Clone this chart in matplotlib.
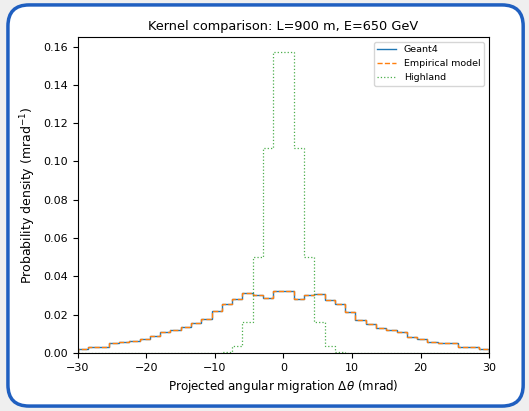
import numpy as np
import matplotlib
matplotlib.use("Agg")
import matplotlib.pyplot as plt
from matplotlib.patches import FancyBboxPatch

# bin edges (mrad), 1.5 mrad wide
bin_edges = np.arange(-30, 30.01, 1.5)

# densities, per bin, left to right
geant4 = [0.0022, 0.0033, 0.0033, 0.0050, 0.0056, 0.0063, 0.0073, 0.0087,
          0.0110, 0.0122, 0.0136, 0.0157, 0.0179, 0.0219, 0.0254, 0.0280,
          0.0313, 0.0303, 0.0287, 0.0325, 0.0325, 0.0284, 0.0301, 0.0310,
          0.0278, 0.0254, 0.0216, 0.0172, 0.0153, 0.0132, 0.0118, 0.0108,
          0.0084, 0.0071, 0.0059, 0.0054, 0.0050, 0.0031, 0.0031, 0.0021]
empirical = [0.0022, 0.0033, 0.0033, 0.0050, 0.0056, 0.0063, 0.0073, 0.0087,
             0.0110, 0.0122, 0.0136, 0.0157, 0.0179, 0.0219, 0.0254, 0.0280,
             0.0313, 0.0303, 0.0287, 0.0325, 0.0325, 0.0284, 0.0301, 0.0310,
             0.0278, 0.0254, 0.0216, 0.0172, 0.0153, 0.0132, 0.0118, 0.0108,
             0.0084, 0.0071, 0.0059, 0.0054, 0.0050, 0.0031, 0.0031, 0.0021]
highland = [0, 0, 0, 0, 0, 0, 0, 0, 0, 0, 0, 0, 0, 0,
            0.0006, 0.0035, 0.0162, 0.0502, 0.1070, 0.1570,
            0.1570, 0.1070, 0.0502, 0.0162, 0.0035, 0.0006,
            0, 0, 0, 0, 0, 0, 0, 0, 0, 0, 0, 0, 0, 0]

fig = plt.figure(figsize=(5.29, 4.11), dpi=100)
fig.patch.set_facecolor("#efefef")

# rounded blue frame behind the axes
frame = FancyBboxPatch((0.015, 0.012), 0.974, 0.976, transform=fig.transFigure,
                       boxstyle="round,pad=0,rounding_size=0.04",
                       facecolor="white", edgecolor="#1f5fc0", linewidth=2.5,
                       mutation_aspect=529 / 411, zorder=-5)
fig.patches.append(frame)

ax = fig.add_axes([0.1474, 0.141, 0.777, 0.769])
ax.stairs(geant4, bin_edges, color="tab:blue", lw=1, label="Geant4")
ax.stairs(empirical, bin_edges, color="tab:orange", lw=1, ls="--", label="Empirical model")
ax.stairs(highland, bin_edges, color="tab:green", lw=0.9, ls=":", alpha=0.85, label="Highland")

ax.set_xlim(-30, 30)
ax.set_ylim(0, 0.165)
ax.set_yticks(np.arange(0, 0.161, 0.02))
ax.tick_params(labelsize=8)
ax.set_title("Kernel comparison: L=900 m, E=650 GeV", fontsize=9.3, pad=5)
ax.set_xlabel(r"Projected angular migration $\Delta\theta$ (mrad)", fontsize=8.6)
ax.set_ylabel(r"Probability density (mrad$^{-1}$)", fontsize=9)
ax.legend(loc="upper right", fontsize=6.8)

fig.savefig("out.png", dpi=100, facecolor=fig.get_facecolor())
